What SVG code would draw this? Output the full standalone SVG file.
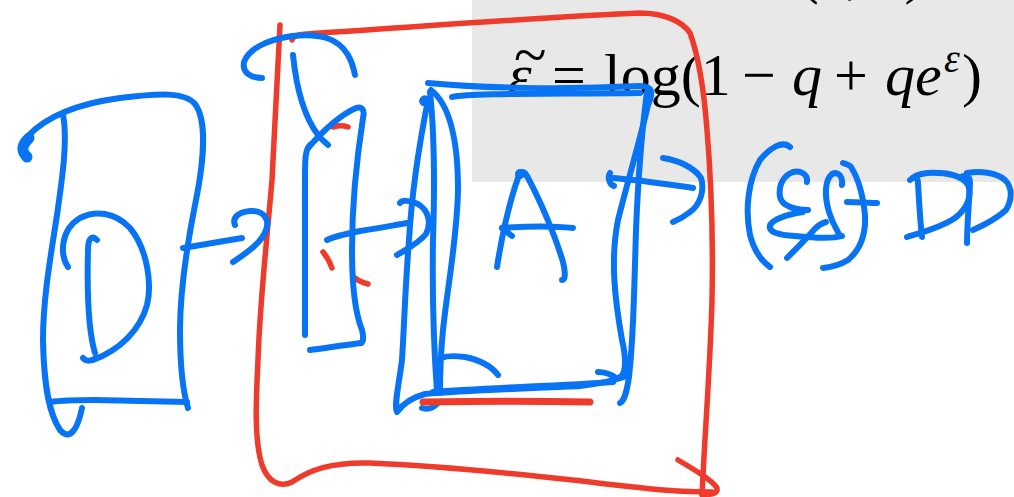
<svg xmlns="http://www.w3.org/2000/svg" width="1014" height="497" viewBox="0 0 1014 497">
<style>
.b{fill:none;stroke:#0874f4;stroke-width:6;stroke-linecap:round;stroke-linejoin:round}
.r{fill:none;stroke:#ee3b2b;stroke-width:5.5;stroke-linecap:round;stroke-linejoin:round}
.t{font-family:"Liberation Serif","Times New Roman",serif;font-size:60px;fill:#000}
.i{font-style:italic}
</style>
<rect width="1014" height="497" fill="#ffffff"/>
<g id="formula-panel">
<rect x="472" y="0" width="542" height="182" fill="#e8e8e8"/>
<text class="t" x="803" y="-8"><tspan class="i">(ε, δ</tspan>)</text>
<text class="t" y="95"><tspan class="i" x="508">ε</tspan><tspan x="552">=</tspan><tspan x="604">log(1</tspan><tspan x="742">−</tspan><tspan class="i" x="792">q</tspan><tspan x="834">+</tspan><tspan class="i" x="885">qe</tspan><tspan class="i" x="944" y="72" font-size="40">ε</tspan><tspan x="962" y="95">)</tspan></text>
<text class="t" x="514" y="75" font-size="30">~</text>
</g>
<g id="node-D">
<path class="b" d="M27,158 C18,150 20,143 28,136 C45,118 75,104 120,98 C160,93 185,92 195,104 C207,120 204,160 196,200 C186,250 180,290 180,330 C180,370 184,395 188,408"/>
<path class="b" style="stroke-width:11" d="M27,157 C21,151 21,146 29,138"/>
<path class="b" d="M63,115 C68,140 62,180 57,215 C50,260 43,300 43,340 C44,390 50,415 60,430 C70,442 78,428 82,408"/>
<path class="b" d="M50,402 C65,400 80,400 95,400 L187,402"/>
<path class="b" d="M97,240 C92,235 88,238 88,250 C87,290 88,330 95,353"/>
<path class="b" d="M83,358 C86,362 92,361 96,358"/>
<path class="b" d="M68,267 C60,255 60,230 80,218 C95,210 115,212 130,228 C148,250 152,285 147,305 C140,330 120,350 93,360"/>
</g>
<g id="node-frame">
<path class="r" d="M280,25 C278,60 275,120 272,180 C266,250 260,300 258,360 C256,400 254,440 262,465 C268,482 280,488 292,482 C310,470 330,462 370,463 C420,465 500,472 573,480 C630,487 670,492 712,492"/>
<path class="r" d="M292,40 C293,35 300,34 320,33 C400,28 560,16 640,13 C665,13 683,22 690,33 C698,55 704,90 707,130 C712,190 713,250 712,300 C710,370 705,430 702,495"/>
<path class="r" d="M678,460 C695,470 712,480 717,488 C718,494 710,495 702,494"/>
<path class="r" d="M333,127 C340,125 345,126 348,127"/>
<path class="r" d="M323,252 C328,258 330,262 332,268"/>
<path class="r" d="M355,278 C360,282 364,283 368,284"/>
</g>
<g id="node-slim">
<path class="b" d="M262,78 C250,78 242,72 244,62 C248,50 265,40 292,36 C320,33 338,38 348,55 C352,62 354,70 355,75"/>
<path class="b" d="M293,55 C296,85 303,115 318,135 C322,140 326,143 328,145"/>
<path class="b" d="M308,148 C322,132 340,115 356,108 C362,106 365,110 363,118 C358,150 352,200 352,250 C352,290 356,315 362,330 C364,338 363,342 361,343"/>
<path class="b" d="M310,145 C305,150 305,160 305,180 L305,335"/>
<path class="b" d="M310,350 C325,348 345,345 361,343"/>
</g>
<g id="node-A">
<path class="b" d="M428,83 C480,88 560,90 640,86 C652,86 654,92 648,105 C640,140 628,180 618,220 C610,260 615,300 622,340 C628,365 624,375 620,377"/>
<path class="b" d="M452,97 C470,93 540,94 640,93"/>
<path class="b" d="M647,92 C642,130 638,180 636,230 C634,300 633,340 629,377 C627,390 625,400 620,403"/>
<path class="b" d="M423,103 C420,100 425,96 428,100 C420,140 412,190 409,240 C405,290 404,330 402,360 C398,390 394,405 397,412 C402,405 410,398 425,394 C470,390 540,388 580,386 C600,384 615,380 627,376"/>
<path class="b" d="M430,92 C434,130 435,180 433,240 C432,300 434,350 437,392"/>
<path class="b" d="M431,90 C450,105 458,140 458,190 C457,240 447,290 443,330 C440,360 440,380 440,393"/>
<path class="b" d="M438,362 C440,356 450,355 465,357 C480,360 492,367 498,375"/>
<path class="b" d="M433,392 C480,388 560,386 613,382"/>
<path class="b" d="M598,372 C605,372 612,375 616,378"/>
<path class="b" d="M422,408 C428,410 433,408 437,404"/>
<path class="r" style="stroke-width:7" d="M423,402 C480,401 540,401 590,402"/>
<path class="b" d="M497,267 C502,235 510,200 519,175 C522,170 525,172 527,176 C540,200 555,235 563,262 C566,274 565,280 562,280"/>
<circle cx="520" cy="174" r="5" fill="#0874f4"/>
<path class="b" d="M502,228 C530,226 555,226 573,228"/>
<path class="b" d="M502,228 L512,236"/>
</g>
<g id="connectors">
<path class="b" d="M183,248 L242,238"/>
<path class="b" d="M235,225 C232,218 238,212 250,211 C264,210 270,220 266,230 C262,242 248,252 233,262"/>
<path class="b" d="M327,240 C335,236 345,234 360,231 C380,228 395,225 407,223"/>
<path class="b" d="M400,203 C402,200 410,200 418,204 C428,210 432,222 426,234 C418,244 405,250 397,255"/>
<path class="b" d="M610,173 C607,178 610,185 614,186"/>
<path class="b" d="M613,178 C640,180 665,184 693,188"/>
<path class="b" d="M663,158 C678,160 695,168 701,178 C705,190 700,205 690,212 C685,216 678,220 673,222"/>
<path class="b" d="M847,202 C858,202 868,203 877,203"/>
</g>
<g id="node-epsdelta">
<path class="b" d="M790,147 C782,140 770,148 760,160 C748,180 745,210 750,235 C754,250 760,260 770,267"/>
<path class="b" d="M807,182 C808,174 800,170 793,172 C784,175 778,185 780,197 C782,206 795,210 808,210"/>
<path class="b" d="M803,212 C790,214 775,218 770,225 C768,232 778,235 795,236 C815,238 832,239 842,236"/>
<path class="b" d="M787,258 C795,250 805,240 812,232 C817,226 822,223 826,222"/>
<path class="b" d="M842,185 C843,176 838,171 832,174 C825,180 824,195 829,212 C833,225 838,232 840,236"/>
<path class="b" d="M843,163 C846,164 850,165 851,167 C858,178 863,195 865,215 C866,235 860,250 848,260 C840,265 832,267 823,268"/>
</g>
<g id="node-DP">
<path class="b" d="M910,180 C914,176 918,177 918,183 C919,200 920,220 922,237"/>
<path class="b" d="M907,237 C920,233 940,228 955,218 C968,208 972,195 968,185 C962,175 945,172 927,173 C918,174 913,177 913,178"/>
<path class="b" d="M960,178 C964,174 970,175 970,183 C969,205 967,225 967,243"/>
<path class="b" d="M967,173 C980,171 996,172 1005,180 C1013,188 1012,200 1006,210 C995,220 982,226 973,230"/>
</g>
</svg>
